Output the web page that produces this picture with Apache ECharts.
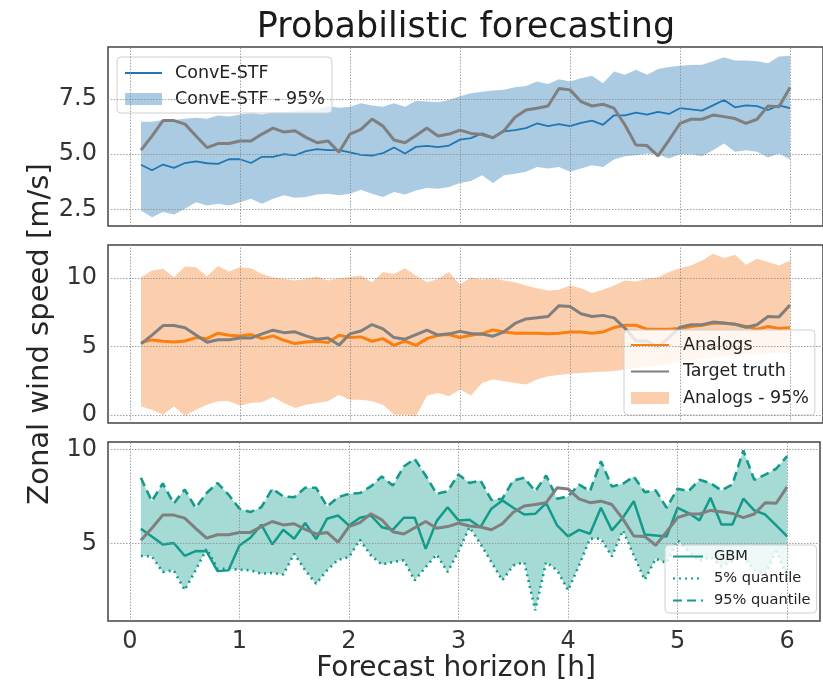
<!DOCTYPE html>
<html>
<head>
<meta charset="utf-8">
<script src="https://cdn.jsdelivr.net/npm/echarts@6/dist/echarts.min.js"></script>
<style>
html,body{margin:0;padding:0;background:#fff}
#chart{width:823px;height:690px}
</style>
</head>
<body>
<div id="chart"></div>
<script>
// Forecast horizon in hours
const horizon = [0.1,0.2,0.3,0.4,0.5,0.6,0.7,0.8,0.9,1.0,1.1,1.2,1.3,1.4,1.5,1.6,1.7,1.8,1.9,2.0,
  2.1,2.2,2.3,2.4,2.5,2.6,2.7,2.8,2.9,3.0,3.1,3.2,3.3,3.4,3.5,3.6,3.7,3.8,3.9,4.0,
  4.1,4.2,4.3,4.4,4.5,4.6,4.7,4.8,4.9,5.0,5.1,5.2,5.3,5.4,5.5,5.6,5.7,5.8,5.9,6.0];

// Observed zonal wind speed (m/s)
const targetTruth = [5.18,5.82,6.52,6.52,6.36,5.82,5.3,5.48,5.48,5.6,5.6,5.91,6.18,6.0,6.06,5.76,5.52,5.6,5.09,5.91,
  6.12,6.59,6.27,5.64,5.52,5.85,6.18,5.82,5.91,6.09,5.94,5.89,5.74,6.06,6.67,7.0,7.08,7.18,7.97,7.91,
  7.38,7.18,7.26,7.08,6.32,5.41,5.39,4.92,5.64,6.39,6.58,6.58,6.77,6.7,6.61,6.39,6.58,7.18,7.15,8.02];

// ConvE-STF: mean and 95% interval
const convMean = [4.52,4.27,4.53,4.38,4.6,4.67,4.59,4.56,4.77,4.77,4.6,4.88,4.88,5.0,4.95,5.14,5.23,5.18,5.18,5.08,
  4.97,4.94,5.05,5.3,5.03,5.33,5.38,5.32,5.39,5.66,5.73,5.94,5.76,6.03,6.09,6.18,6.39,6.27,6.36,6.27,
  6.42,6.52,6.33,6.76,6.76,6.88,6.79,6.91,6.82,7.08,7.03,6.97,7.21,7.45,7.12,7.21,7.17,7.0,7.21,7.08];
const convUpper = [6.47,6.47,6.55,6.55,6.6,6.65,6.6,6.75,6.7,6.8,6.85,6.8,6.9,6.9,6.95,7.0,7.0,7.18,7.1,7.15,
  7.3,7.2,7.15,7.3,7.15,7.42,7.38,7.35,7.45,7.62,7.76,7.83,7.88,7.91,8.03,8.09,8.29,8.18,8.39,8.29,
  8.44,8.55,8.21,8.74,8.59,8.82,8.59,8.85,8.94,9.0,9.03,9.05,9.2,9.39,9.24,9.24,9.2,9.12,9.42,9.45];
const convLower = [2.45,2.15,2.38,2.27,2.53,2.83,2.68,2.76,2.68,2.83,2.98,2.76,2.98,3.14,3.03,3.06,3.18,3.21,3.14,3.21,
  3.39,3.21,3.06,3.29,3.18,3.36,3.47,3.44,3.52,3.7,3.79,4.05,3.7,4.05,4.12,4.2,4.42,4.35,4.42,4.2,
  4.35,4.5,4.42,4.76,4.91,4.95,5.03,4.98,4.8,5.0,5.0,4.91,5.18,5.48,5.11,5.18,5.11,4.85,5.03,4.76];

// Analogs: mean and 95% interval
const analogMean = [5.27,5.47,5.37,5.32,5.39,5.64,5.56,5.96,5.81,5.76,5.86,5.56,5.76,5.44,5.2,5.32,5.37,5.27,5.81,5.64,
  5.69,5.37,5.56,5.07,5.39,5.07,5.56,5.81,5.86,5.64,5.81,5.93,6.2,6.05,5.96,5.96,5.96,5.91,5.96,6.05,
  6.05,5.96,6.05,6.37,6.54,6.54,6.25,6.25,6.25,6.3,6.45,6.54,6.69,6.69,6.62,6.45,6.25,6.45,6.3,6.35];
const analogUpper = [10.05,10.54,10.66,10.05,10.83,10.78,10.12,10.86,10.47,10.78,10.71,10.29,10.05,9.93,9.8,9.93,10.1,9.8,9.98,10.07,
  10.17,9.68,10.42,10.29,10.71,10.17,9.68,9.93,10.42,9.5,10.05,9.88,9.98,9.8,9.68,9.44,9.24,9.07,9.14,9.44,
  9.24,8.9,9.14,9.44,9.8,9.73,9.93,10.05,10.42,10.71,10.9,11.27,11.76,11.45,11.69,10.96,11.4,11.15,10.9,11.27];
const analogLower = [0.61,0.37,0.0,0.61,-0.07,0.37,0.74,0.98,0.98,0.66,0.86,0.91,1.3,0.86,0.49,0.74,0.86,0.98,1.47,1.1,
  1.1,0.98,0.74,0.0,0.0,-0.12,1.4,1.59,1.35,1.85,1.4,2.33,2.57,2.45,2.33,2.21,2.57,2.82,2.9,3.0,
  3.05,3.1,3.15,3.2,3.3,3.4,3.5,3.6,3.75,3.9,4.0,4.1,4.2,4.3,4.35,4.45,4.4,4.5,4.55,4.5];

// GBM: median and 5% / 95% quantiles
const gbmMean = [5.8,5.39,4.96,5.04,4.36,4.61,4.6,3.55,3.59,4.91,5.32,6.01,4.96,5.74,5.27,6.1,5.25,6.33,6.5,5.97,
  6.38,6.5,5.88,5.74,6.38,6.38,4.73,6.2,6.94,6.24,6.27,5.88,6.86,7.3,6.91,6.55,6.59,7.16,5.97,5.39,
  5.74,5.53,6.91,5.71,6.38,7.26,5.49,5.44,5.39,6.91,6.63,6.24,7.44,6.02,6.02,7.39,6.77,6.55,5.97,5.39];
const gbmQ95 = [8.5,7.26,8.2,7.14,7.88,6.91,7.69,8.22,7.61,6.86,6.68,6.94,7.92,7.51,7.47,7.97,7.97,6.98,7.47,7.65,
  7.69,8.04,8.57,8.09,9.1,9.5,8.62,7.65,7.79,8.68,8.22,8.36,7.33,7.39,8.36,8.5,7.79,8.62,7.39,7.51,
  8.14,7.79,9.38,8.04,8.18,8.57,7.74,7.83,6.91,7.92,7.79,8.39,8.22,7.83,8.14,9.95,8.39,8.67,8.98,9.65];
const gbmQ05 = [4.35,4.33,3.5,3.59,2.55,3.6,4.73,3.67,3.67,3.62,3.59,3.41,3.45,3.37,4.47,3.59,2.88,3.59,4.15,4.29,
  5.21,4.38,3.9,4.03,4.12,3.06,3.76,4.43,3.5,4.6,5.88,5.0,4.03,3.06,3.85,4.03,1.47,4.03,3.59,2.53,
  3.85,5.27,5.27,4.33,5.71,4.38,3.09,4.2,3.98,5.18,4.6,4.1,4.3,3.8,4.1,4.3,3.6,3.4,4.6,3.3];

// Axis ticks
const xTicks = [0, 1, 2, 3, 4, 5, 6];
const yTicksTop = [2.5, 5.0, 7.5];
const yTicksMid = [0, 5, 10];
const yTicksBottom = [5, 10];

const FONT = 'DejaVu Sans';
const pairs = arr => horizon.map((h, i) => [h, arr[i]]);
const tickFormatter = (ticks, digits) => v =>
  ticks.some(t => Math.abs(t - v) < 1e-6) ? v.toFixed(digits) : '';

// Dotted grid at the labelled ticks
const gridLines = (yTicks) => ({
  silent: true,
  symbol: 'none',
  label: { show: false },
  animation: false,
  lineStyle: { color: '#8a8a8a', width: 0.8, type: [1.5, 1.5] },
  emphasis: { disabled: true },
  data: xTicks.map(v => ({ xAxis: v })).concat(yTicks.map(v => ({ yAxis: v })))
});

// Shaded interval between a lower and an upper curve
function intervalBand(name, lower, upper, color, g) {
  return {
    name, type: 'custom', xAxisIndex: g, yAxisIndex: g, silent: true,
    itemStyle: { color },
    data: [[horizon[0], lower[0]]],
    renderItem: (params, api) => {
      const pts = horizon.map((h, i) => api.coord([h, upper[i]]));
      for (let i = horizon.length - 1; i >= 0; i--) pts.push(api.coord([horizon[i], lower[i]]));
      return { type: 'polygon', shape: { points: pts }, style: { fill: color } };
    }
  };
}

function line(name, arr, color, width, g, dash, yTicks) {
  const s = {
    name, type: 'line', xAxisIndex: g, yAxisIndex: g, data: pairs(arr),
    symbol: 'none', itemStyle: { color },
    lineStyle: { color, width, type: dash || 'solid' },
    silent: true
  };
  if (yTicks) s.markLine = gridLines(yTicks);
  return s;
}

const BLUE = '#1f77b4', ORANGE = '#f97f10', GRAY = '#7f7f7f', TEAL = '#149a8b';
const BLUE_BAND = 'rgba(31,119,180,0.38)';
const ORANGE_BAND = 'rgba(245,130,40,0.38)';
const TEAL_BAND = 'rgba(20,160,145,0.38)';

const gridBase = { left: 108, width: 716, show: true, borderColor: '#444', borderWidth: 1.5, backgroundColor: 'transparent' };
const grids = [
  Object.assign({ top: 47, height: 179 }, gridBase),
  Object.assign({ top: 245, height: 178 }, gridBase),
  Object.assign({ top: 442, height: 179 }, gridBase)
];

const xAxisBase = (g) => ({
  type: 'value', gridIndex: g, min: -0.2, max: 6.3, interval: 0.2,
  axisLine: { show: false }, axisTick: { show: false }, splitLine: { show: false },
  axisLabel: g === 2
    ? { show: true, formatter: tickFormatter(xTicks, 0), fontSize: 24, color: '#333', margin: 9, fontFamily: FONT }
    : { show: false }
});
const xAxes = [xAxisBase(0), xAxisBase(1), xAxisBase(2)];
xAxes[2].name = 'Forecast horizon [h]';
xAxes[2].nameLocation = 'middle';
xAxes[2].nameGap = 30;
xAxes[2].nameTextStyle = { fontSize: 28, color: '#262626', fontFamily: FONT, padding: [0, 16, 0, 0] };

const yAxisBase = (g, min, max, interval, ticks, digits) => ({
  type: 'value', gridIndex: g, min, max, interval,
  axisLine: { show: false }, axisTick: { show: false }, splitLine: { show: false },
  axisLabel: { formatter: tickFormatter(ticks, digits), fontSize: 24, color: '#333', margin: 11, fontFamily: FONT }
});
const yAxes = [
  yAxisBase(0, 1.75, 9.85, 0.25, yTicksTop, 1),
  yAxisBase(1, -0.6, 12.4, 0.2, yTicksMid, 0),
  yAxisBase(2, 0.9, 10.4, 0.1, yTicksBottom, 0)
];
yAxes[1].name = 'Zonal wind speed [m/s]';
yAxes[1].nameLocation = 'middle';
yAxes[1].nameGap = 53;
yAxes[1].nameTextStyle = { fontSize: 29, color: '#262626', fontFamily: FONT };

const series = [
  intervalBand('ConvE-STF - 95%', convLower, convUpper, BLUE_BAND, 0),
  line('ConvE-STF', convMean, BLUE, 1.8, 0, null, yTicksTop),
  line('Target truth', targetTruth, GRAY, 3, 0),

  intervalBand('Analogs - 95%', analogLower, analogUpper, ORANGE_BAND, 1),
  line('Analogs', analogMean, ORANGE, 3, 1, null, yTicksMid),
  line('Target truth', targetTruth, GRAY, 3, 1),

  intervalBand('GBM interval', gbmQ05, gbmQ95, TEAL_BAND, 2),
  line('5% quantile', gbmQ05, TEAL, 2.6, 2, [2, 4], yTicksBottom),
  line('95% quantile', gbmQ95, TEAL, 2.6, 2, [9, 5]),
  line('GBM', gbmMean, TEAL, 2.5, 2),
  line('Target truth', targetTruth, GRAY, 3, 2)
];

const legendBase = {
  orient: 'vertical', align: 'left', backgroundColor: 'rgba(255,255,255,0.8)',
  borderColor: '#d0d0d0', borderWidth: 1, borderRadius: 4, selectedMode: false,
  itemStyle: { opacity: 0 }
};
const legends = [
  Object.assign({}, legendBase, {
    left: 117, top: 57, padding: [6, 7, 4, 7], itemWidth: 37, itemHeight: 12, itemGap: 6,
    textStyle: { fontSize: 17.5, lineHeight: 20, color: '#222', fontFamily: FONT, padding: [0, 0, 0, 8] },
    data: ['ConvE-STF', { name: 'ConvE-STF - 95%', icon: 'rect', itemStyle: { color: BLUE_BAND, opacity: 1 } }]
  }),
  Object.assign({}, legendBase, {
    left: 624, top: 330, padding: [5, 6, 7, 6], itemWidth: 38, itemHeight: 12, itemGap: 6.5,
    textStyle: { fontSize: 17.5, lineHeight: 20, color: '#222', fontFamily: FONT, padding: [0, 0, 0, 9] },
    data: ['Analogs', 'Target truth', { name: 'Analogs - 95%', icon: 'rect', itemStyle: { color: ORANGE_BAND, opacity: 1 } }]
  }),
  Object.assign({}, legendBase, {
    left: 665, top: 545, padding: [3, 6, 4, 7], itemWidth: 30, itemHeight: 10, itemGap: 5,
    textStyle: { fontSize: 14.6, lineHeight: 17, color: '#222', fontFamily: FONT, padding: [0, 0, 0, 6] },
    data: ['GBM', '5% quantile', '95% quantile']
  })
];

const chart = echarts.init(document.getElementById('chart'), null, { renderer: 'canvas' });
chart.setOption({
  animation: false,
  backgroundColor: '#fff',
  textStyle: { fontFamily: FONT },
  title: {
    text: 'Probabilistic forecasting', left: 466, top: 10, textAlign: 'center', padding: 0,
    textStyle: { fontSize: 35, fontWeight: 'normal', color: '#1a1a1a', fontFamily: FONT }
  },
  grid: grids,
  xAxis: xAxes,
  yAxis: yAxes,
  legend: legends,
  series
});
</script>
</body>
</html>
